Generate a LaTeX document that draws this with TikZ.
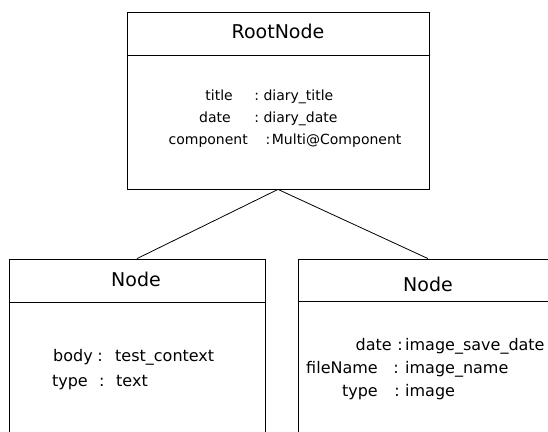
\documentclass[tikz,border=0pt]{standalone}
\usepackage{fontspec}
\setmainfont{DejaVu Sans}

\begin{document}
\begin{tikzpicture}[x=1pt,y=-1pt,
    box/.style={draw,line width=0.8pt,inner sep=0pt},
    head/.style={inner sep=0pt,font=\fontsize{19}{22}\selectfont},
    rattr/.style={inner sep=0pt,font=\fontsize{14}{17}\selectfont},
    cattr/.style={inner sep=0pt,font=\fontsize{16}{19}\selectfont}]
    \useasboundingbox (0,0) rectangle (548,431);

    % Draw the three boxes (the lower ones run off the page)
    \node[box,minimum width=302pt,minimum height=177pt] (root) at (278,100.5) {};
    \node[box,minimum width=256pt,minimum height=220pt] (left) at (137,369) {};
    \node[box,minimum width=260pt,minimum height=220pt] (right) at (428,369) {};

    % Draw the title dividers
    \draw[line width=0.8pt] (root.north west) ++(0,44) -- ++(302,0);
    \draw[line width=0.8pt] (left.north west) ++(0,44) -- ++(256,0);
    \draw[line width=0.8pt] (right.north west) ++(0,43) -- ++(260,0);

    % Draw the titles
    \node[head] (roottitle) at (278,31.5) {RootNode};
    \node[head] (lefttitle) at (136,279.5) {Node};
    \node[head] (righttitle) at (428,284) {Node};

    % Draw the links
    \draw[line width=0.8pt] (root.south) -- (left.north);
    \draw[line width=0.8pt] (root.south) -- (right.north);

    % Draw the attributes: name end / colon / value start / baseline
    \foreach \kx/\cx/\vx/\y/\k/\v [count=\i] in
        {233/256.7/263.3/100/title/diary\_title,
         231/256.7/263.3/122/date/diary\_date,
         248/268/271.7/144/component/Multi@Component}
    {
        \node[rattr,anchor=base east] (rk\i) at (\kx,\y) {\k};
        \node[rattr,anchor=base] (rc\i) at (\cx,\y) {:};
        \node[rattr,anchor=base west] (rv\i) at (\vx,\y) {\v};
    }
    \foreach \kx/\cx/\vx/\y/\k/\v [count=\i] in
        {93/100/115/361.7/body/test\_context,
         88/101.7/116/386.7/type/text}
    {
        \node[cattr,anchor=base east] (lk\i) at (\kx,\y) {\k};
        \node[cattr,anchor=base] (lc\i) at (\cx,\y) {:};
        \node[cattr,anchor=base west] (lv\i) at (\vx,\y) {\v};
    }
    \foreach \kx/\cx/\vx/\y/\k/\v [count=\i] in
        {392/400/405/350/date/image\_save\_date,
         378/396/405/373.3/fileName/image\_name,
         378/397/405/396.7/type/image}
    {
        \node[cattr,anchor=base east] (ck\i) at (\kx,\y) {\k};
        \node[cattr,anchor=base] (cc\i) at (\cx,\y) {:};
        \node[cattr,anchor=base west] (cv\i) at (\vx,\y) {\v};
    }
\end{tikzpicture}
\end{document}
